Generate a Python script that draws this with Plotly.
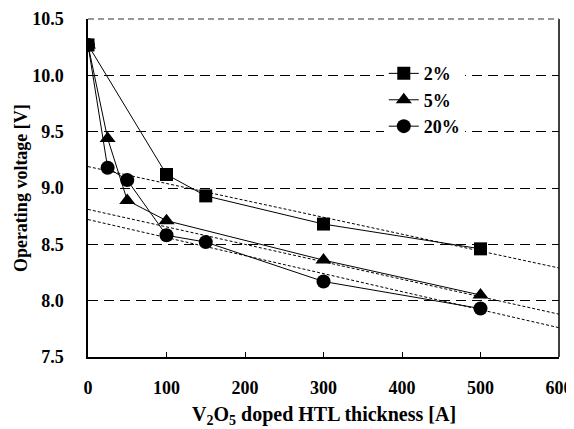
import plotly.graph_objects as go

# Measured data
x_2 = [0, 100, 150, 300, 500]
v_2 = [10.27, 9.12, 8.93, 8.68, 8.46]
x_5 = [0, 25, 50, 100, 300, 500]
v_5 = [10.27, 9.44, 8.89, 8.71, 8.36, 8.05]
x_20 = [0, 25, 50, 100, 150, 300, 500]
v_20 = [10.27, 9.18, 9.07, 8.58, 8.52, 8.17, 7.93]

# Linear trend lines (values at x=0 and x=600)
trend_x = [0, 600]
trend_2 = [9.19, 8.29]
trend_5 = [8.81, 7.88]
trend_20 = [8.72, 7.76]

series_names = ["2%", "5%", "20%"]
symbols = ["square", "triangle-up", "circle"]
x_ticks = [0, 100, 200, 300, 400, 500, 600]
y_ticks = [7.5, 8.0, 8.5, 9.0, 9.5, 10.0, 10.5]
y_ticktext = ["7.5", "8.0", "8.5", "9.0", "9.5", "10.0", "10.5"]
x_title = "V<sub>2</sub>O<sub>5</sub> doped HTL thickness [A]"
y_title = "Operating voltage [V]"

FONT = "Liberation Serif"

def bfont(size):
    return dict(family=FONT, size=size, color="black", weight="bold")

fig = go.Figure()

for tv in [trend_2, trend_5, trend_20]:
    fig.add_trace(go.Scatter(x=trend_x, y=tv, mode="lines",
                             line=dict(color="black", width=1, dash="3px,2px"),
                             showlegend=False, hoverinfo="skip"))

for xs, vs, name, sym in zip([x_2, x_5, x_20], [v_2, v_5, v_20], series_names, symbols):
    fig.add_trace(go.Scatter(x=xs, y=vs, mode="lines+markers", name=name,
                             line=dict(color="black", width=1),
                             marker=dict(symbol=sym, size=14 if sym != "square" else 13,
                                         color="black")))

fig.update_layout(
    width=566, height=421,
    margin=dict(l=80, r=15, t=11, b=72),
    paper_bgcolor="white", plot_bgcolor="white",
    font=bfont(18),
    showlegend=True,
    legend=dict(x=0.628, y=0.893, xanchor="left", yanchor="top",
                bgcolor="white", borderwidth=0,
                font=bfont(18),
                itemwidth=30, tracegroupgap=0),
    xaxis=dict(range=[0, 600], tickvals=x_ticks,
               showline=True, linecolor="black", linewidth=1.5,
               ticks="inside", ticklen=5, tickcolor="black",
               showgrid=False, zeroline=False, automargin=False,
               ticklabelstandoff=14,
               tickfont=bfont(18)),
    yaxis=dict(range=[7.5, 10.5], tickvals=y_ticks, ticktext=y_ticktext,
               showline=True, linecolor="black", linewidth=1.5,
               ticks="", showgrid=True, gridcolor="black", gridwidth=1,
               griddash="10px,6px", zeroline=False, automargin=False,
               ticklabelstandoff=19,
               tickfont=bfont(18)),
)
fig.add_annotation(text=x_title, xref="paper", yref="paper", x=0.5, y=-0.172,
                   xanchor="center", yanchor="middle", showarrow=False, font=bfont(20))
fig.add_annotation(text=y_title, xref="paper", yref="paper", x=-0.142, y=0.5,
                   xanchor="center", yanchor="middle", textangle=-90,
                   showarrow=False, font=bfont(18))
fig.add_shape(type="line", xref="paper", yref="paper", x0=1, x1=1, y0=0, y1=1,
              line=dict(color="black", width=1.5))
fig.add_shape(type="line", xref="paper", yref="paper", x0=0, x1=1, y0=1, y1=1,
              line=dict(color="#777777", width=1.5, dash="6px,4px"))

fig.write_html("out.html")
